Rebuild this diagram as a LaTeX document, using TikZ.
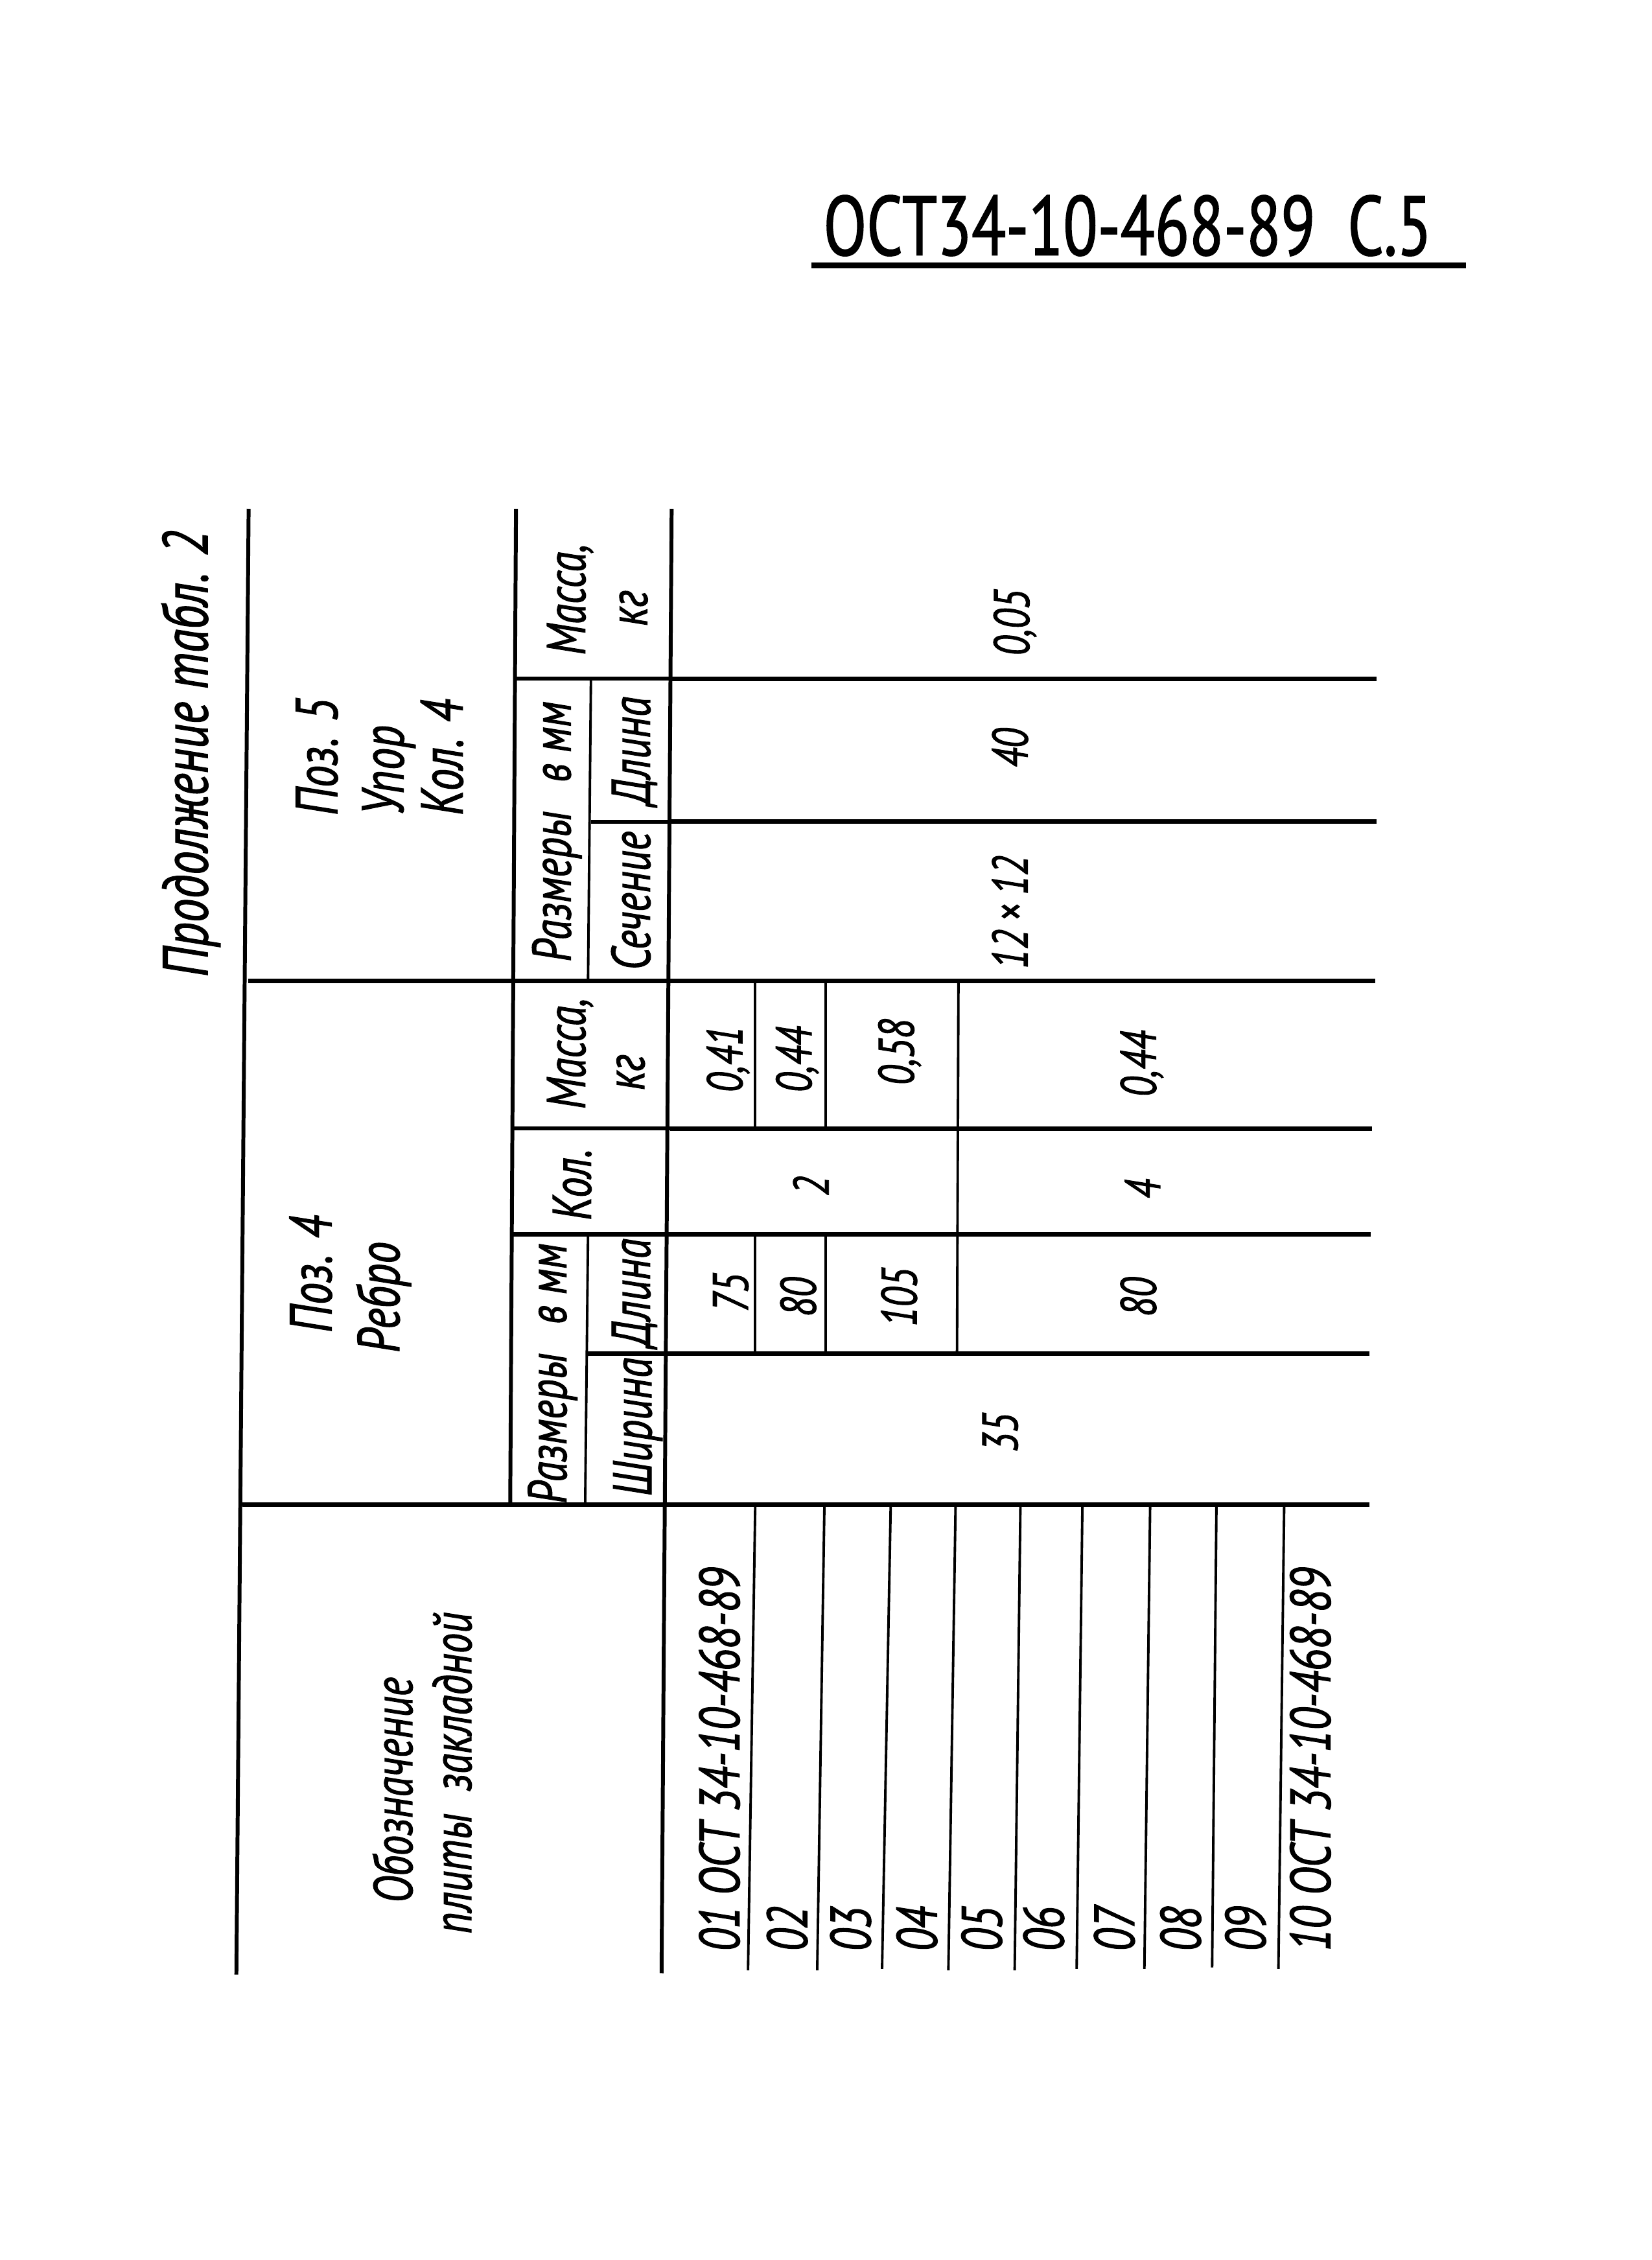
\documentclass[tikz,border=0pt]{standalone}
\usepackage{fontspec}
\newfontfamily\gost{PT Sans}[FakeStretch=0.75,FakeBold=1.2]

\begin{document}
\begin{tikzpicture}[x=0.22243mm,y=-0.22243mm]
\tikzstyle{every node}+=[inner sep=0pt]
\tikzstyle{heavy}=[line width=2.1pt]
\tikzstyle{plain}=[line width=1.7pt]
\tikzstyle{light}=[line width=1.1pt]
\tikzstyle{bigtxt}=[rotate=90,anchor=base,font=\gost\itshape\fontsize{26}{30}\selectfont]
\tikzstyle{lab}=[rotate=90,anchor=base,font=\gost\itshape\fontsize{24}{28}\selectfont]
\tikzstyle{num}=[rotate=90,anchor=base,font=\gost\itshape\fontsize{22}{26}\selectfont]
\tikzstyle{rowcode}=[rotate=90,anchor=base west,font=\gost\itshape\fontsize{25}{28}\selectfont]
\useasboundingbox (0,0) rectangle (1146,1568);
% sheet code
\draw (571,177) node (code) [anchor=base west,font=\gost\fontsize{37}{40}\selectfont] {ОСТ34-10-468-89\hspace{5mm}С.5};
\draw [black,line width=2.6pt] (563,184) -- (1017,184);
\draw (144,523) node (prod) [bigtxt,font=\gost\itshape\fontsize{28}{30}\selectfont] {Продолжение\hspace{2mm}табл. 2};
% long verticals
\draw [black,plain] (172.5,353) -- (164,1370);
\draw [black,plain] (358,353) -- (354,1044);
\draw [black,plain] (466,353) -- (459,1369);
\draw [black,light] (410,471) -- (408,680);
\draw [black,light] (408,856) -- (406,1044);
% columns of pos. 4
\draw [black,light] (524,681) -- (524,783);
\draw [black,light] (573,681) -- (573,783);
\draw [black,light] (524,856) -- (524,939);
\draw [black,light] (573,856) -- (573,939);
\draw [black,light] (665,681) -- (664,939);
% horizontals
\draw [black,plain] (358,471) -- (466,471);
\draw [black,heavy] (466,471) -- (955,471);
\draw [black,plain] (410,570) -- (466,570);
\draw [black,heavy] (466,570) -- (955,570);
\draw [black,heavy] (172,680.5) -- (954,680.5);
\draw [black,plain] (356,783) -- (465,783);
\draw [black,heavy] (465,783) -- (952,783);
\draw [black,heavy] (355,856.5) -- (951,856.5);
\draw [black,heavy] (407,939) -- (950,939);
\draw [black,heavy] (168,1044) -- (950,1044);
% rows 02..10
\draw [black,light] (524,1044) -- (519,1367);
\draw [black,light] (572,1044) -- (567,1367);
\draw [black,light] (618,1044) -- (612,1366);
\draw [black,light] (663,1044) -- (658,1367);
\draw [black,light] (708,1044) -- (704,1367);
\draw [black,light] (751,1044) -- (747,1366);
\draw [black,light] (798,1044) -- (794,1366);
\draw [black,light] (844,1044) -- (841,1365);
\draw [black,light] (891,1044) -- (887,1366);
% pos. 5 heading
\draw (234,566) node (poz5) [bigtxt,anchor=base west] {Поз. 5};
\draw (280,566) node (upor) [bigtxt,anchor=base west] {Упор};
\draw (321,566) node (kol5) [bigtxt,anchor=base west] {Кол. 4};
\draw (406,416) node (mas5) [lab] {Масса,};
\draw (449,422) node (kg5) [lab] {кг};
\draw (396,577) node (raz5) [lab] {Размеры\hspace{4.5mm}в мм};
\draw (451,521) node (dl5) [lab] {Длина};
\draw (451,625) node (sech) [lab] {Сечение};
\draw (714,432) node (m005) [num] {0,05};
\draw (713,519) node (l40) [num] {40};
\draw (713,633) node (s12) [num] {12\,×\,12};
% pos. 4 heading
\draw (230,884) node (poz4) [bigtxt] {Поз. 4};
\draw (277,900) node (rebro) [bigtxt] {Ребро};
\draw (406,731) node (mas4) [lab] {Масса,};
\draw (447,744) node (kg4) [lab] {кг};
\draw (410,822) node (kol4) [lab] {Кол.};
\draw (393,953) node (raz4) [lab] {Размеры\hspace{4.5mm}в мм};
\draw (451,897) node (dl4) [lab] {Длина};
\draw (452,990) node (shir) [lab] {Ширина};
\draw (515,735) node (m041) [num] {0,41};
\draw (563,735) node (m044a) [num] {0,44};
\draw (634,730) node (m058) [num] {0,58};
\draw (802,738) node (m044b) [num] {0,44};
\draw (575,823) node (n2) [num] {2};
\draw (805,825) node (n4) [num] {4};
\draw (519,897) node (l75) [num] {75};
\draw (566,900) node (l80a) [num] {80};
\draw (636,900) node (l105) [num] {105};
\draw (802,900) node (l80b) [num] {80};
\draw (706,994) node (w35) [num] {35};
% designation column
\draw (286,1242) node (oboz) [lab] {Обозначение};
\draw (327,1230) node (plit) [lab] {плиты\hspace{3.5mm}закладной};
\draw (513,1354) node (r01) [rowcode] {01 ОСТ 34-10-468-89};
\draw (560,1354) node (r02) [rowcode] {02};
\draw (604,1354) node (r03) [rowcode] {03};
\draw (650,1354) node (r04) [rowcode] {04};
\draw (695,1354) node (r05) [rowcode] {05};
\draw (738,1354) node (r06) [rowcode] {06};
\draw (787,1354) node (r07) [rowcode] {07};
\draw (833,1354) node (r08) [rowcode] {08};
\draw (878,1354) node (r09) [rowcode] {09};
\draw (923,1354) node (r10) [rowcode] {10 ОСТ 34-10-468-89};
\end{tikzpicture}
\end{document}
